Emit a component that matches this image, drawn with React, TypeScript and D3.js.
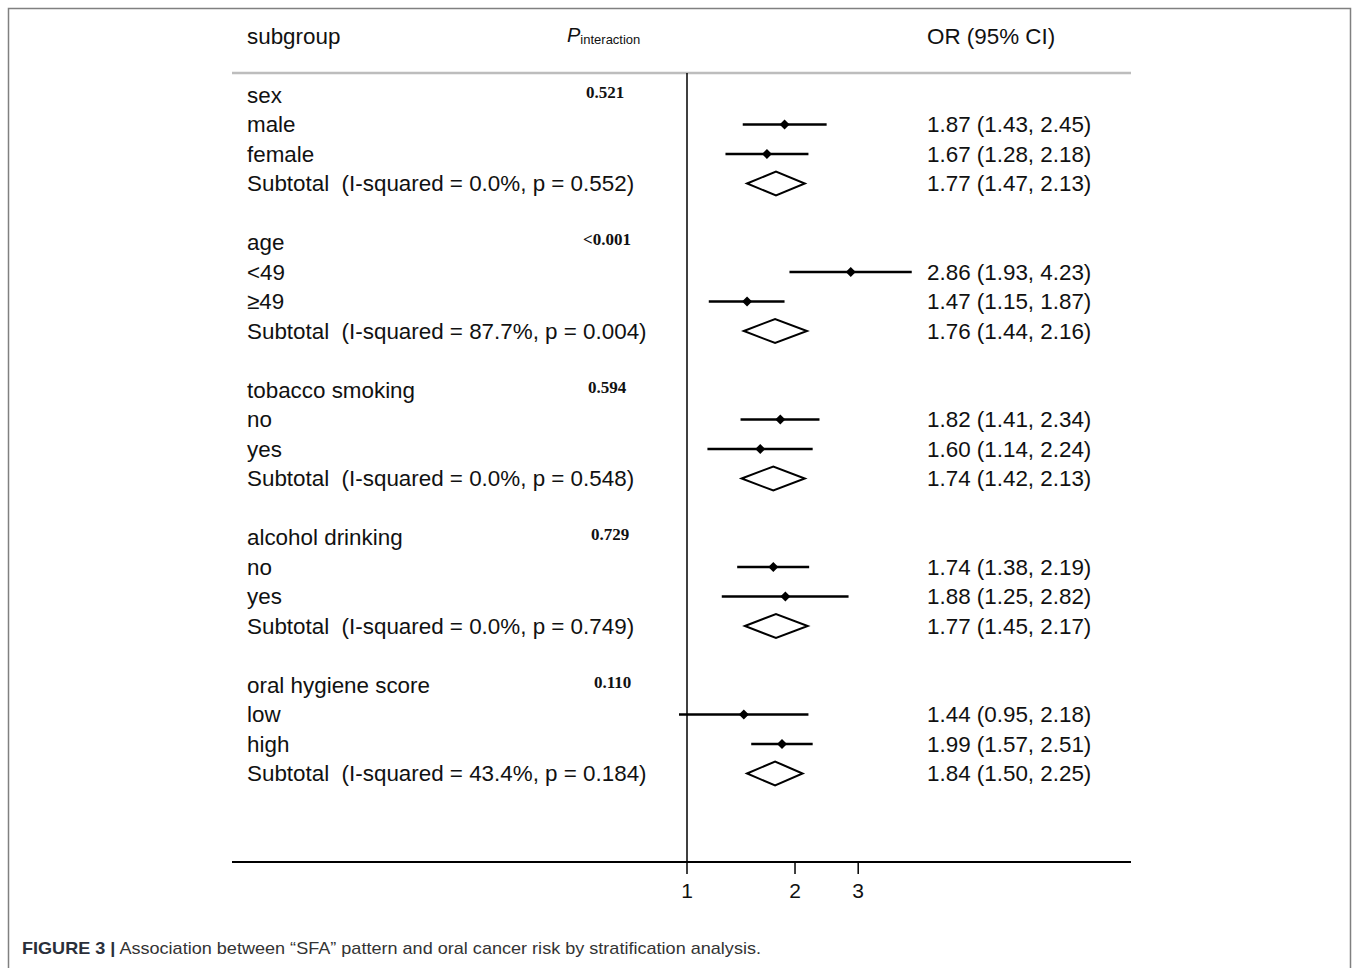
import React from 'react';
import * as d3 from 'd3';

const groupNames = ['sex', 'age', 'tobacco smoking', 'alcohol drinking', 'oral hygiene score'];
const pInteraction = ['0.521', '<0.001', '0.594', '0.729', '0.110'];
const subLabels = [['male', 'female'], ['<49', '≥49'], ['no', 'yes'], ['no', 'yes'], ['low', 'high']];
// OR (95% CI) column text
const subText = [
  ['1.87 (1.43, 2.45)', '1.67 (1.28, 2.18)'],
  ['2.86 (1.93, 4.23)', '1.47 (1.15, 1.87)'],
  ['1.82 (1.41, 2.34)', '1.60 (1.14, 2.24)'],
  ['1.74 (1.38, 2.19)', '1.88 (1.25, 2.82)'],
  ['1.44 (0.95, 2.18)', '1.99 (1.57, 2.51)'],
];
const pooledText = ['1.77 (1.47, 2.13)', '1.76 (1.44, 2.16)', '1.74 (1.42, 2.13)', '1.77 (1.45, 2.17)', '1.84 (1.50, 2.25)'];
const iSquared = ['0.0%', '87.7%', '0.0%', '0.0%', '43.4%'];
const hetP = ['0.552', '0.004', '0.548', '0.749', '0.184'];
// plotted marks, as drawn in the figure
const subOR = [[1.87, 1.67], [2.86, 1.47], [1.82, 1.60], [1.74, 1.88], [1.44, 1.84]];
const subLow = [[1.43, 1.28], [1.93, 1.15], [1.41, 1.14], [1.38, 1.25], [0.95, 1.51]];
const subHigh = [[2.45, 2.18], [4.23, 1.87], [2.34, 2.24], [2.19, 2.82], [2.18, 2.24]];
const pooledOR = [1.77, 1.76, 1.74, 1.77, 1.76];
const pooledLow = [1.47, 1.44, 1.42, 1.45, 1.47];
const pooledHigh = [2.13, 2.16, 2.13, 2.17, 2.10];
const xTicks = [1, 2, 3];

// layout
const W = 1358, H = 968;
const LEFT = 232, RIGHT = 1131;
const LABEL_X = 247, OR_X = 927, P_X = 586;
const pNudge = [0, -3, 2, 5, 8];
const TOP_LINE = 73, AXIS_Y = 862;
const FS = 22.4;
const SANS = '"Liberation Sans", Arial, sans-serif';
const SERIF = '"Liberation Serif", "Times New Roman", serif';

export default function App() {
  const x = d3.scaleLog().domain([1, 3]).range([687, 858.2]);
  const y = d3.scaleLinear().domain([0, 1]).range([95, 124.5]);
  const rowsPerGroup = 5;

  const items: React.ReactNode[] = [];
  groupNames.forEach((g, gi) => {
    const base = gi * rowsPerGroup;
    const yh = y(base);
    items.push(
      <text key={`g${gi}`} x={LABEL_X} y={yh} dy="0.35em" fontSize={FS} fontFamily={SANS} fill="#111">{g}</text>,
      <text key={`p${gi}`} x={P_X + pNudge[gi]} y={yh - 3} dy="0.35em" fontSize={17} fontWeight="bold" fontFamily={SERIF} fill="#111">{pInteraction[gi]}</text>
    );
    subLabels[gi].forEach((lab, k) => {
      const yy = y(base + 1 + k);
      const o = subOR[gi][k], lo = subLow[gi][k], hi = subHigh[gi][k];
      const cx = x(o);
      items.push(
        <text key={`l${gi}${k}`} x={LABEL_X} y={yy} dy="0.35em" fontSize={FS} fontFamily={SANS} fill="#111">{lab}</text>,
        <line key={`ci${gi}${k}`} x1={x(lo)} x2={x(hi)} y1={yy} y2={yy} stroke="#000" strokeWidth={2.5} />,
        <path key={`pt${gi}${k}`} d={`M${cx - 5},${yy} L${cx},${yy - 5} L${cx + 5},${yy} L${cx},${yy + 5} Z`} fill="#000" />,
        <text key={`o${gi}${k}`} x={OR_X} y={yy} dy="0.35em" fontSize={FS} fontFamily={SANS} fill="#111">{subText[gi][k]}</text>
      );
    });
    const ys = y(base + 3);
    const a = x(pooledLow[gi]), b = x(pooledHigh[gi]), c = x(pooledOR[gi]);
    items.push(
      <text key={`s${gi}`} x={LABEL_X} y={ys} dy="0.35em" fontSize={FS} fontFamily={SANS} fill="#111" style={{ whiteSpace: 'pre' }}>{`Subtotal  (I-squared = ${iSquared[gi]}, p = ${hetP[gi]})`}</text>,
      <path key={`d${gi}`} d={`M${a},${ys} L${c},${ys - 12} L${b},${ys} L${c},${ys + 12} Z`} fill="none" stroke="#000" strokeWidth={2} />,
      <text key={`so${gi}`} x={OR_X} y={ys} dy="0.35em" fontSize={FS} fontFamily={SANS} fill="#111">{pooledText[gi]}</text>
    );
  });

  return (
    <svg width={W} height={H} style={{ position: 'absolute', left: 0, top: 0, display: 'block', background: '#fff' }}>
      <rect x={0} y={0} width={W} height={H} fill="#fff" />
      <path d={`M8.5,${H + 5} L8.5,8.5 L1350.5,8.5 L1350.5,${H + 5}`} fill="none" stroke="#808080" strokeWidth={1.5} />
      <text x={LABEL_X} y={36} dy="0.35em" fontSize={FS} fontFamily={SANS} fill="#111">subgroup</text>
      <text x={567} y={36} dy="0.35em" fontFamily={SANS} fill="#111">
        <tspan fontStyle="italic" fontSize={20}>P</tspan>
        <tspan fontSize={13} dy="2">interaction</tspan>
      </text>
      <text x={OR_X} y={36} dy="0.35em" fontSize={FS} fontFamily={SANS} fill="#111">OR (95% CI)</text>
      <line x1={LEFT} x2={RIGHT} y1={TOP_LINE} y2={TOP_LINE} stroke="#bdbdbd" strokeWidth={2.5} />
      <line x1={x(1)} x2={x(1)} y1={TOP_LINE} y2={AXIS_Y} stroke="#000" strokeWidth={1.5} />
      {items}
      <line x1={LEFT} x2={RIGHT} y1={AXIS_Y} y2={AXIS_Y} stroke="#000" strokeWidth={2} />
      {xTicks.map((t) => (
        <g key={t}>
          <line x1={x(t)} x2={x(t)} y1={AXIS_Y} y2={AXIS_Y + 12} stroke="#000" strokeWidth={1.5} />
          <text x={x(t)} y={891} dy="0.35em" textAnchor="middle" fontSize={21} fontFamily={SANS} fill="#111">{t}</text>
        </g>
      ))}
      <text x={22} y={954} fontSize={17} fontFamily={SANS} fill="#333" textLength={739} lengthAdjust="spacingAndGlyphs">
        <tspan fontWeight="bold" fill="#2a2f3a">FIGURE 3 |</tspan>
        <tspan> Association between “SFA” pattern and oral cancer risk by stratification analysis.</tspan>
      </text>
    </svg>
  );
}
